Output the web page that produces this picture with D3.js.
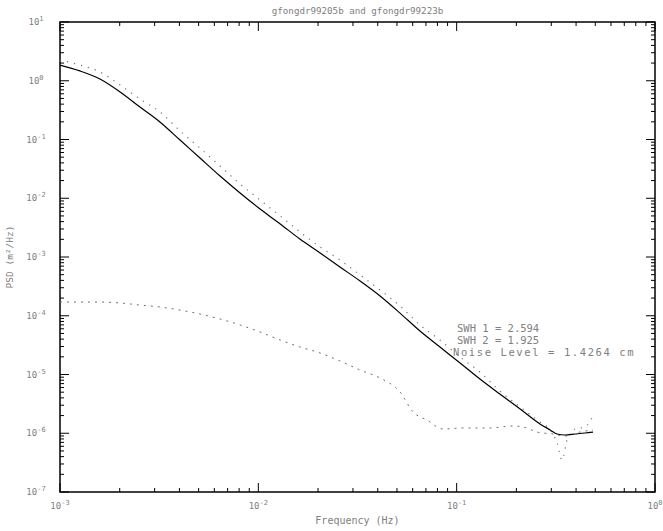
<html>
  <head>
    <script src="https://cdnjs.cloudflare.com/ajax/libs/d3/7.8.5/d3.min.js"></script>
    <style>
      body { margin: 0; background: #fff; }
      text { font-family: 'DejaVu Sans Mono', monospace; fill: #808080; }
    </style>
  </head>
  <body>
    <svg id="psd"></svg>
    <script>
      // frequency grids (Hz)
      const freqModel = [0.001, 0.00126, 0.00159, 0.00201, 0.00253, 0.00319, 0.00403, 0.00508, 0.00641, 0.00809,
        0.0102, 0.0129, 0.0162, 0.0205, 0.0258, 0.0326, 0.0411, 0.0518, 0.0653, 0.0824,
        0.104, 0.131, 0.165, 0.209, 0.263, 0.296, 0.321, 0.352, 0.395, 0.444, 0.487];
      const psdModel = [1.85, 1.47, 1.07, 0.644, 0.357, 0.199, 0.098, 0.0484, 0.0239, 0.0123,
        0.00656, 0.00365, 0.00202, 0.00117, 6.76e-4, 3.90e-4, 2.17e-4, 1.11e-4, 5.50e-5, 2.94e-5,
        1.57e-5, 8.38e-6, 4.66e-6, 2.59e-6, 1.44e-6, 1.14e-6, 9.70e-7, 9.33e-7, 9.70e-7, 1.01e-6, 1.05e-6];

      const freqData = [0.001, 0.00126, 0.00159, 0.00201, 0.00253, 0.00319, 0.00403, 0.00508, 0.00641, 0.00809,
        0.0102, 0.0129, 0.0162, 0.0205, 0.0258, 0.0326, 0.0411, 0.0518, 0.0653, 0.0824,
        0.104, 0.131, 0.165, 0.209, 0.263, 0.296, 0.321, 0.340, 0.360, 0.395, 0.444, 0.487];
      const psdData = [2.25, 1.85, 1.41, 0.847, 0.489, 0.294, 0.140, 0.0716, 0.0354, 0.0175,
        0.00933, 0.00499, 0.00267, 0.00148, 8.89e-4, 4.94e-4, 2.74e-4, 1.47e-4, 6.97e-5, 3.86e-5,
        1.99e-5, 1.10e-5, 5.24e-6, 2.80e-6, 1.55e-6, 1.14e-6, 6.82e-7, 3.51e-7, 7.67e-7, 1.18e-6, 1.28e-6, 1.97e-6];

      const freqNoise = [0.001, 0.00126, 0.00159, 0.00201, 0.00253, 0.00319, 0.00403, 0.00508, 0.00641, 0.00809,
        0.0102, 0.0129, 0.0162, 0.0205, 0.0258, 0.0326, 0.0411, 0.0518, 0.0603, 0.0708,
        0.0853, 0.108, 0.147, 0.192, 0.226, 0.254, 0.306, 0.352, 0.419, 0.487];
      const psdNoise = [1.71e-4, 1.71e-4, 1.71e-4, 1.65e-4, 1.52e-4, 1.41e-4, 1.25e-4, 1.07e-4, 8.81e-5, 6.97e-5,
        5.28e-5, 3.86e-5, 2.94e-5, 2.32e-5, 1.70e-5, 1.19e-5, 8.71e-6, 5.04e-6, 2.30e-6, 1.68e-6,
        1.18e-6, 1.23e-6, 1.23e-6, 1.33e-6, 1.23e-6, 1.05e-6, 9.70e-7, 8.98e-7, 1.05e-6, 1.14e-6];

      const xTickExp = [-3, -2, -1, 0];
      const yTickExp = [-7, -6, -5, -4, -3, -2, -1, 0, 1];
      const legendLines = ['SWH 1 = 2.594', 'SWH 2 = 1.925', 'Noise Level = 1.4264 cm'];

      const W = 663, H = 531;
      const margin = {top: 22, right: 8, bottom: 39, left: 60};
      const width = W - margin.left - margin.right;
      const height = H - margin.top - margin.bottom;

      const svg = d3.select('#psd').attr('width', W).attr('height', H);
      const g = svg.append('g').attr('transform', 'translate(' + margin.left + ',' + margin.top + ')');

      const x = d3.scaleLog().domain([1e-3, 1]).range([0, width]);
      const y = d3.scaleLog().domain([1e-7, 10]).range([height, 0]);

      // inward ticks on every side
      function minorTicks(scale) {
        const [a, b] = scale.domain().map(Math.log10);
        const out = [];
        for (let e = a; e < b; e++) {
          for (let m = 2; m < 10; m++) out.push(m * Math.pow(10, e));
        }
        return out;
      }
      const majX = xTickExp.map(e => Math.pow(10, e));
      const majY = yTickExp.map(e => Math.pow(10, e));

      const ticks = g.append('g').attr('stroke', '#000').attr('stroke-width', 1);
      [[0, 1], [height, -1]].forEach(([y0, dir]) => {
        ticks.selectAll(null).data(majX).enter().append('line')
          .attr('x1', d => x(d)).attr('x2', d => x(d))
          .attr('y1', y0).attr('y2', y0 - dir * -9);
        ticks.selectAll(null).data(minorTicks(x)).enter().append('line')
          .attr('x1', d => x(d)).attr('x2', d => x(d))
          .attr('y1', y0).attr('y2', y0 + dir * 4);
      });
      [[0, 1], [width, -1]].forEach(([x0, dir]) => {
        ticks.selectAll(null).data(majY).enter().append('line')
          .attr('y1', d => y(d)).attr('y2', d => y(d))
          .attr('x1', x0).attr('x2', x0 + dir * 9);
        ticks.selectAll(null).data(minorTicks(y)).enter().append('line')
          .attr('y1', d => y(d)).attr('y2', d => y(d))
          .attr('x1', x0).attr('x2', x0 + dir * 4);
      });

      // frame
      g.append('rect')
        .attr('width', width).attr('height', height)
        .attr('fill', 'none').attr('stroke', '#000').attr('stroke-width', 1.5);

      // tick labels
      function powLabel(sel, e) {
        sel.append('tspan').text('10');
        sel.append('tspan').attr('dy', -4).attr('font-size', 7).text(e);
      }
      g.selectAll('.xl').data(xTickExp).enter().append('text')
        .attr('class', 'xl')
        .attr('x', d => x(Math.pow(10, d)))
        .attr('y', height + 17)
        .attr('text-anchor', 'middle')
        .attr('font-size', 9)
        .each(function(d) { powLabel(d3.select(this), d); });

      g.selectAll('.yl').data(yTickExp).enter().append('text')
        .attr('class', 'yl')
        .attr('x', -24)
        .attr('y', d => y(Math.pow(10, d)) + 3)
        .attr('text-anchor', 'middle')
        .attr('font-size', 9)
        .each(function(d) { powLabel(d3.select(this), d); });

      // curves
      const line = d3.line().x(d => x(d[0])).y(d => y(d[1])).curve(d3.curveMonotoneX);

      g.append('path')
        .datum(d3.zip(freqNoise, psdNoise))
        .attr('d', line)
        .attr('fill', 'none').attr('stroke', '#707070').attr('stroke-width', 1)
        .attr('stroke-dasharray', '2,5');

      g.append('path')
        .datum(d3.zip(freqData, psdData))
        .attr('d', line)
        .attr('fill', 'none').attr('stroke', '#707070').attr('stroke-width', 1.2)
        .attr('stroke-dasharray', '1.2,6');

      g.append('path')
        .datum(d3.zip(freqModel, psdModel))
        .attr('d', line)
        .attr('fill', 'none').attr('stroke', '#000').attr('stroke-width', 1.2);

      // legend text
      g.selectAll('.lg').data(legendLines).enter().append('text')
        .attr('x', (d, i) => i < 2 ? 397 : 393)
        .attr('y', (d, i) => 310 + i * 12)
        .attr('font-size', 10.5)
        .attr('letter-spacing', (d, i) => i < 2 ? 0 : 1.6)
        .text(d => d);

      // titles
      svg.append('text')
        .attr('x', margin.left + width / 2).attr('y', 14)
        .attr('text-anchor', 'middle').attr('font-size', 9.2).attr('fill', '#666')
        .text('gfongdr99205b and gfongdr99223b');

      svg.append('text')
        .attr('x', margin.left + width / 2).attr('y', 524)
        .attr('text-anchor', 'middle').attr('font-size', 10)
        .text('Frequency (Hz)');

      svg.append('text')
        .attr('transform', 'translate(13,' + (margin.top + height / 2) + ') rotate(-90)')
        .attr('text-anchor', 'middle').attr('font-size', 9.5)
        .text('PSD (m²/Hz)');
    </script>
  </body>
</html>
